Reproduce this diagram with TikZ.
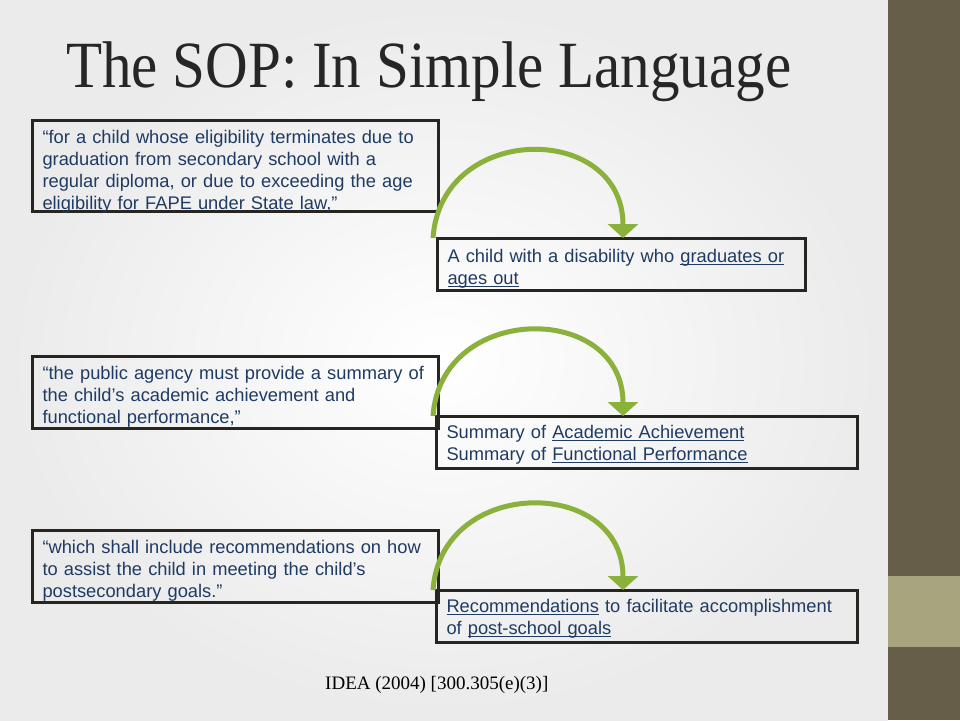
\documentclass[tikz,border=0pt]{standalone}
\usepackage{fontspec}
\setmainfont{Liberation Serif}
\setsansfont{Liberation Sans}
\newfontfamily\titlefont[FakeStretch=0.895]{Liberation Serif}
\usetikzlibrary{arrows.meta}
\definecolor{textbleu}{HTML}{1F3B64}
\definecolor{trait}{HTML}{272520}
\definecolor{vert}{HTML}{8AB13C}
\definecolor{bande}{HTML}{665E48}
\definecolor{bandeclair}{HTML}{A8A57E}
\newcommand\souligne[1]{\leavevmode\setbox0\hbox{#1}\rlap{\rule[-2.6pt]{\wd0}{1pt}}\box0\relax}

\begin{document}
\begin{tikzpicture}[x=1pt,y=-1pt]
\tikzset{boite/.style={draw=trait, line width=3pt, anchor=north west, outer sep=0pt, inner xsep=10.5pt, inner ysep=0pt, align=left, text=textbleu, font=\sffamily\fontsize{18.3}{22.3}\selectfont},
fleche/.style={draw=vert, line width=5pt, -{Triangle[width=30pt,length=14pt]}}}
\useasboundingbox (0,0) rectangle (960,720);
\shade[inner color=white, outer color=black!8] (0,0) rectangle (888,720);
\fill[bande] (888,0) rectangle (960,720);
\fill[bandeclair] (888,576) rectangle (960,647);
\node[anchor=base west, inner sep=0pt, text=black!85] (titre) at (66,87) {\titlefont\fontsize{66}{66}\selectfont The SOP: In Simple Language};
\node[boite, minimum width=406pt, minimum height=91pt, text width=385pt, text height=23pt, text depth=68pt] (G1) at (32,120) {“for a child whose eligibility terminates due to\\ graduation from secondary school with a\\ regular diploma, or due to exceeding the age\\ eligibility for FAPE under State law,”};
\node[boite, minimum width=368pt, minimum height=52pt, text width=347pt, text height=24pt, text depth=28pt] (D1) at (437,238) {A child with a disability who \souligne{graduates or}\\ \souligne{ages out}};
\node[boite, minimum width=406pt, minimum height=72pt, text width=385pt, text height=23pt, text depth=49pt] (G2) at (32,356) {“the public agency must provide a summary of\\ the child’s academic achievement and\\ functional performance,”};
\node[boite, minimum width=421pt, minimum height=52pt, text width=400pt, text height=22pt, text depth=30pt] (D2) at (436,416) {Summary of \souligne{Academic Achievement}\\ Summary of \souligne{Functional Performance}};
\node[boite, minimum width=406pt, minimum height=72pt, text width=385pt, text height=23pt, text depth=49pt] (G3) at (32,530) {“which shall include recommendations on how\\ to assist the child in meeting the child’s\\ postsecondary goals.”};
\node[boite, minimum width=421pt, minimum height=52pt, text width=400pt, text height=22pt, text depth=30pt] (D3) at (436,590) {\souligne{Recommendations} to facilitate accomplishment\\ of \souligne{post-school goals}};
\draw[fleche] ([xshift=-4pt]D1.north west) .. controls +(8,-116) and +(0,-116) .. ([xshift=186pt]D1.north west);
\draw[fleche] ([xshift=-3pt]D2.north west) .. controls +(8,-114) and +(0,-114) .. ([xshift=187pt]D2.north west);
\draw[fleche] ([xshift=-3pt]D3.north west) .. controls +(8,-114) and +(0,-114) .. ([xshift=187pt]D3.north west);
\node[anchor=base west, inner sep=0pt] (idea) at (325,689) {\fontsize{19}{19}\selectfont IDEA (2004) [300.305(e)(3)]};
\end{tikzpicture}
\end{document}
